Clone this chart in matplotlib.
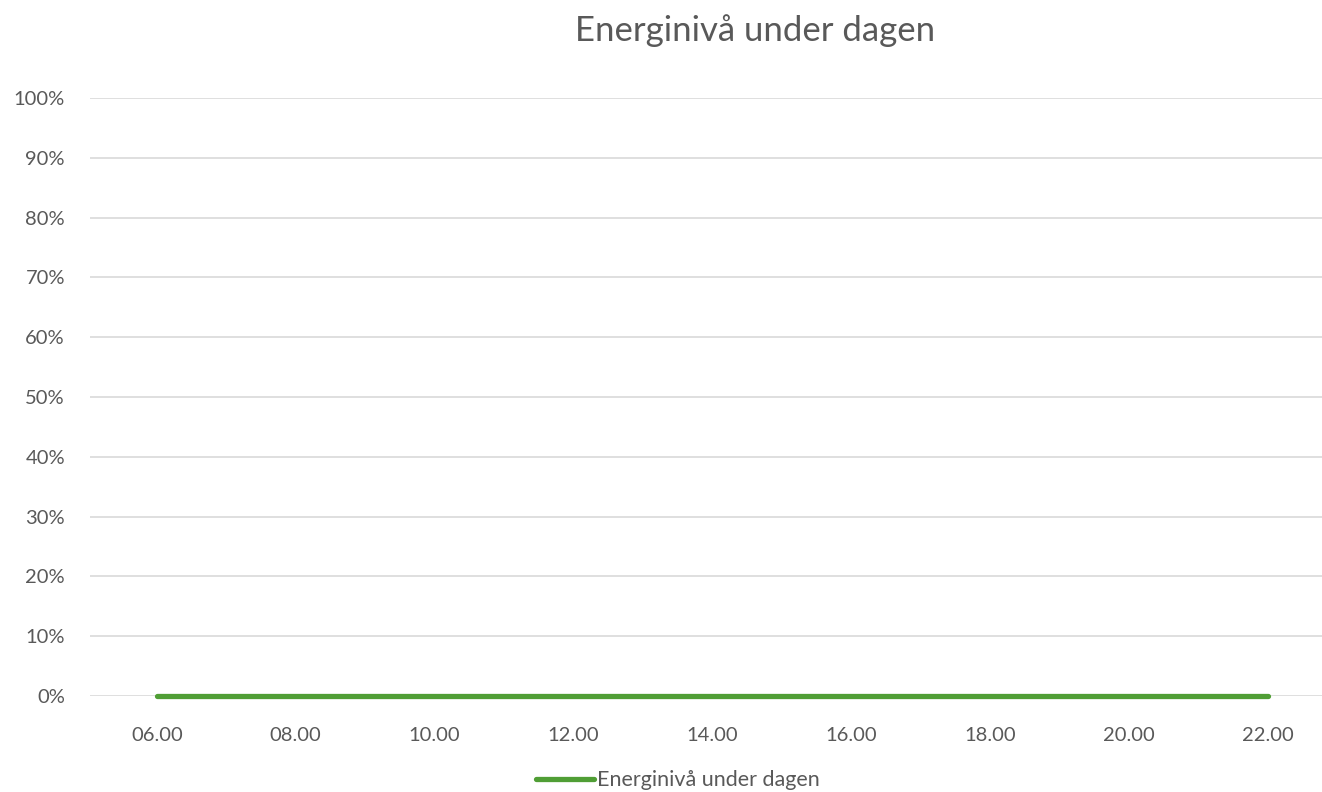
import matplotlib
matplotlib.use("Agg")
import matplotlib.pyplot as plt
import matplotlib.ticker as mticker

# data
times = ["06.00", "08.00", "10.00", "12.00", "14.00", "16.00", "18.00", "20.00", "22.00"]
energy = [0, 0, 0, 0, 0, 0, 0, 0, 0]
series_name = "Energinivå under dagen"

plt.rcParams["font.family"] = ["Lato", "DejaVu Sans"]
text_col = "#595959"

fig = plt.figure(figsize=(13.22, 7.92), dpi=100)
ax = fig.add_axes([0.068, 0.1212, 0.932, 0.7551])

x = range(len(times))
ax.plot(x, energy, color="#509e35", linewidth=3.8, solid_capstyle="round",
        label=series_name, zorder=3, clip_on=False)

ax.set_xlim(-0.482, 8.389)
ax.set_ylim(0, 1)
ax.set_xticks(list(x))
ax.set_xticklabels(times)
ax.yaxis.set_major_locator(mticker.MultipleLocator(0.1))
ax.yaxis.set_major_formatter(mticker.PercentFormatter(1.0, decimals=0))

ax.grid(axis="y", color="#d9d9d9", linewidth=1.2)
ax.set_axisbelow(True)
for s in ax.spines.values():
    s.set_visible(False)
ax.tick_params(length=0, colors=text_col, labelsize=14.5)
ax.tick_params(axis="x", pad=22)
ax.tick_params(axis="y", pad=18)

fig.suptitle(series_name, x=0.571, y=0.982, fontsize=25, color=text_col)

leg = fig.legend(loc="lower center", bbox_to_anchor=(0.513, -0.022), frameon=False,
                 fontsize=15.5, handlelength=2.7, handletextpad=0.15)
for t in leg.get_texts():
    t.set_color(text_col)

fig.savefig("out.png", dpi=100)
